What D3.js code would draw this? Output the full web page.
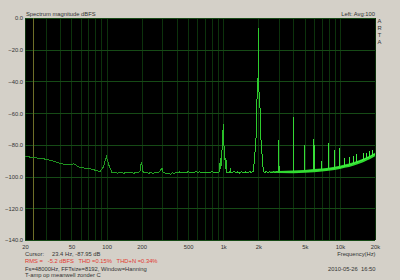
<!DOCTYPE html>
<html lang="en">
<head>
  <meta charset="UTF-8" />
  <title>Spectrum magnitude dBFS</title>
  <script src="https://d3js.org/d3.v7.min.js"></script>
  <style>
    html, body { margin: 0; padding: 0; background: #d4d0c8; }
    svg text { font-family: "Liberation Sans", Arial, sans-serif; font-size: 5.8px; fill: #333; white-space: pre; }
  </style>
</head>
<body>
  <svg id="chart" width="400" height="280"></svg>

  <script>
    // spectrum (Hz, dBFS)
    const spectrumFreq = [
      20, 23.4, 29.3, 35.2, 41.0, 46.9, 52.7, 58.6, 64.5, 70.3, 76.2, 82.0, 87.9, 93.8, 99.6, 105.5,
      111.3, 117.2, 123, 129, 135, 141, 147, 153, 160, 166, 172, 178, 186, 193.4, 199.2, 205, 211,
      220, 230, 240, 250, 260, 270, 281, 293, 298.8, 304.7, 316, 330, 345, 352, 366, 380, 396, 410,
      426, 443, 460, 478, 498, 518, 540, 562, 585, 608, 632, 658, 685, 712, 740, 770, 800, 830, 865,
      900, 930, 945, 955, 970, 988, 1000, 1012, 1030, 1045, 1055, 1068, 1090, 1120, 1153, 1159, 1165,
      1200, 1240, 1280, 1330, 1380, 1430, 1490, 1550, 1610, 1680, 1740, 1810, 1860, 1910, 1950, 1985,
      2000, 2015, 2055, 2105, 2160, 2210, 2270, 2340, 2420, 2500, 2600, 2700, 2800, 2900, 2990, 3000,
      3010, 3200, 3400, 3600, 3800, 3990, 4000, 4010, 4300, 4600, 4990, 5000, 5010, 5300, 5600, 5990,
      6000, 6010, 6500, 6990, 7000, 7010, 7500, 7990, 8000, 8010, 8500, 8990, 9000, 9010, 9500, 9990,
      10000, 10010, 10500, 10990, 11000, 11010, 11500, 11990, 12000, 12010, 12990, 13000, 13010, 13500,
      13990, 14000, 14010, 15000, 15990, 16000, 16010, 16990, 17000, 17010, 17990, 18000, 18010, 18990,
      19000, 19010, 20000
    ];
    const spectrumDb = [
      -87.3, -87.95, -88.9, -90.3, -92.0, -92.3, -92.0, -94.2, -94.6, -95.0, -95.5, -96.3, -96.8, -94.0, -87.4, -93.5,
      -97.3, -97.5, -97.8, -97.6, -97.3, -97.9, -97.4, -97.8, -97.2, -97.6, -97.9, -97.4, -97.7, -96.5, -90.6, -96.8, -97.6,
      -97.3, -97.9, -97.5, -98.0, -97.4, -97.8, -97.3, -95.5, -94.4, -97.0, -97.8, -98.2, -98.0, -98.6, -97.6, -97.9, -97.2, -97.7,
      -97.0, -97.6, -97.1, -97.8, -96.9, -97.5, -97.1, -97.7, -96.8, -97.4, -97.0, -97.6, -97.2, -97.8, -97.1, -97.5, -96.9, -97.4, -97.2,
      -97.6, -97.0, -88, -95, -86, -79, -67, -79, -86, -95, -88, -97.2, -97.6, -97.0, -97.4, -94.6, -97.3,
      -97.4, -96.9, -97.5, -97.1, -97.8, -97.0, -97.4, -97.1, -97.7, -96.9, -97.3, -96.6, -88, -76, -50, -45,
      -6, -45, -50, -76, -88, -96.6, -97.4, -96.8, -97.3, -96.9, -97.5, -97.0, -97.3, -96.8, -97.2, -77,
      -97.0, -97.4, -96.8, -97.3, -96.9, -97.0, -62.6, -96.8, -97.2, -96.7, -96.8, -80, -96.6, -96.9, -96.2, -96.4,
      -76.3, -96.2, -95.9, -95.6, -90, -95.6, -95.5, -95.2, -79, -95.2, -94.8, -94.6, -83, -94.6, -94.4, -94.1,
      -82, -94.1, -93.7, -93.4, -88, -93.4, -93.0, -92.7, -87.5, -92.7, -91.9, -87, -91.9, -91.4,
      -91.0, -86, -91.0, -90.0, -89.3, -85, -89.3, -88.4, -85, -88.4, -87.5, -84, -87.5, -86.6,
      -83.5, -86.6, -85.8
    ];

    // thick noise band at the high end
    const bandFreq = [2500, 3000, 4000, 5000, 6000, 7000, 8000, 9000, 10000, 11000, 12000, 13000, 14000, 15000, 16000, 17000, 18000, 19000, 20000];
    const bandHi = [-96.9, -96.5, -96.1, -95.8, -95.3, -94.9, -94.4, -93.8, -93.1, -92.4, -91.8, -91.0, -90.2, -89.4, -88.6, -87.7, -86.8, -85.9, -85.0];
    const bandLo = [-97.5, -97.8, -97.9, -97.6, -97.2, -96.8, -96.3, -95.8, -95.2, -94.5, -93.9, -93.1, -92.4, -91.6, -90.8, -89.9, -89.0, -88.1, -87.2];

    const yTicks = [0, -20, -40, -60, -80, -100, -120, -140];
    const xTicks = [20, 50, 100, 200, 500, 1000, 2000, 5000, 10000, 20000];
    const xTickLabels = ["20", "50", "100", "200", "500", "1k", "2k", "5k", "10k", "20k"];
    const xGrid = [20, 30, 40, 50, 60, 70, 80, 90, 100, 200, 300, 400, 500, 600, 700, 800, 900,
      1000, 2000, 3000, 4000, 5000, 6000, 7000, 8000, 9000, 10000, 20000];
    const cursorFreq = 23.4;

    const svg = d3.select("#chart");
    const pLeft = 25, pRight = 375, pTop = 18, pBottom = 240;

    const x = d3.scaleLog().domain([20, 20000]).range([pLeft, pRight]);
    const y = d3.scaleLinear().domain([0, -140]).range([pTop, pBottom]);

    // plot area
    svg.append("rect")
      .attr("x", pLeft).attr("y", pTop)
      .attr("width", pRight - pLeft).attr("height", pBottom - pTop)
      .attr("fill", "#000");

    const defs = svg.append("defs");
    defs.append("clipPath").attr("id", "plotClip")
      .append("rect").attr("x", pLeft).attr("y", pTop)
      .attr("width", pRight - pLeft).attr("height", pBottom - pTop);

    // line colour brightens towards the high end
    const grad = defs.append("linearGradient")
      .attr("id", "lineGrad").attr("gradientUnits", "userSpaceOnUse")
      .attr("x1", x(20)).attr("x2", x(20000)).attr("y1", 0).attr("y2", 0);
    grad.append("stop").attr("offset", 0).attr("stop-color", "#1f8c1f");
    grad.append("stop").attr("offset", (x(300) - pLeft) / (pRight - pLeft)).attr("stop-color", "#22a522");
    grad.append("stop").attr("offset", (x(2500) - pLeft) / (pRight - pLeft)).attr("stop-color", "#2fd02f");
    grad.append("stop").attr("offset", 1).attr("stop-color", "#44f244");

    // grid
    const grid = svg.append("g").attr("shape-rendering", "crispEdges");
    grid.selectAll(".vgrid").data(xGrid).enter().append("line")
      .attr("x1", d => Math.round(x(d)) + 0.5).attr("x2", d => Math.round(x(d)) + 0.5)
      .attr("y1", pTop).attr("y2", pBottom)
      .attr("stroke", "#0c320c");
    grid.selectAll(".hgrid").data(yTicks).enter().append("line")
      .attr("x1", pLeft).attr("x2", pRight)
      .attr("y1", d => Math.round(y(d)) + 0.5).attr("y2", d => Math.round(y(d)) + 0.5)
      .attr("stroke", "#164a16");

    // cursor
    svg.append("line")
      .attr("x1", Math.round(x(cursorFreq)) + 0.5).attr("x2", Math.round(x(cursorFreq)) + 0.5)
      .attr("y1", pTop).attr("y2", pBottom)
      .attr("stroke", "#6e6e28").attr("shape-rendering", "crispEdges");

    const plot = svg.append("g").attr("clip-path", "url(#plotClip)");

    const band = bandFreq.map((f, i) => ({ f, hi: bandHi[i], lo: bandLo[i] }));
    plot.append("path")
      .datum(band)
      .attr("fill", "#2fdc2f")
      .attr("d", d3.area().x(d => x(d.f)).y0(d => y(d.lo)).y1(d => y(d.hi)));

    const spectrum = spectrumFreq.map((f, i) => ({ f, db: spectrumDb[i] }));
    plot.append("path")
      .datum(spectrum)
      .attr("fill", "none")
      .attr("stroke", "url(#lineGrad)")
      .attr("stroke-width", 1)
      .attr("shape-rendering", "crispEdges")
      .attr("d", d3.line().x(d => x(d.f)).y(d => y(d.db)));

    // axes (labels only)
    const yAxis = svg.append("g")
      .attr("transform", `translate(${pLeft - 2},0)`)
      .call(d3.axisLeft(y).tickValues(yTicks).tickSize(0).tickFormat(d3.format(".1f")));
    yAxis.select(".domain").remove();
    yAxis.selectAll("text").attr("x", 0).attr("font-family", null).attr("font-size", null);

    const xAxis = svg.append("g")
      .attr("transform", `translate(0,${pBottom + 6.5})`)
      .call(d3.axisBottom(x).tickValues(xTicks).tickSize(0).tickFormat((d, i) => xTickLabels[i]));
    xAxis.select(".domain").remove();
    xAxis.selectAll("text").attr("y", 0).attr("dy", ".35em").attr("font-family", null).attr("font-size", null);
    svg.selectAll(".tick text").attr("fill", null);

    // header
    svg.append("text").attr("x", pLeft + 1).attr("y", 13.7).attr("dy", ".35em").text("Spectrum magnitude dBFS");
    svg.append("text").attr("x", pRight).attr("y", 13.7).attr("dy", ".35em")
      .attr("text-anchor", "end").text("Left: Avg:100");
    ["A", "R", "T", "A"].forEach((c, i) => {
      svg.append("text").attr("x", 379.5).attr("y", 20.7 + i * 7).attr("dy", ".35em")
        .attr("text-anchor", "middle").text(c);
    });

    // footer
    svg.append("text").attr("x", pLeft).attr("y", 254.3).attr("dy", ".35em").text("Cursor:     23.4 Hz, -87.95 dB");
    svg.append("text").attr("x", pRight + 0.5).attr("y", 254.3).attr("dy", ".35em")
      .attr("text-anchor", "end").text("Frequency(Hz)");

    svg.append("text").attr("x", pLeft).attr("y", 261.3).attr("dy", ".35em")
      .style("fill", "#e23a32")
      .text("RMS =   -5.2 dBFS   THD =0.15%   THD+N =0.34%");

    svg.append("text").attr("x", pLeft).attr("y", 268.7).attr("dy", ".35em")
      .text("Fs=48000Hz, FFTsize=8192, Window=Hanning");
    svg.append("text").attr("x", pRight + 0.5).attr("y", 268.7).attr("dy", ".35em")
      .attr("text-anchor", "end").text("2010-05-26  16:50");
    svg.append("text").attr("x", pLeft).attr("y", 275.3).attr("dy", ".35em")
      .text("T-amp op meanwell zonder C");
  </script>
</body>
</html>
